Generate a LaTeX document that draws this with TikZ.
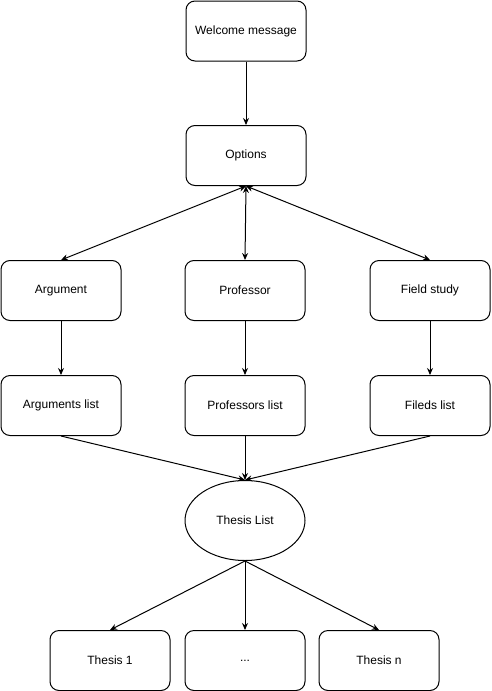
\documentclass[tikz,border=0pt]{standalone}
\usepackage{fontspec}
\setmainfont{Liberation Sans}
\usetikzlibrary{arrows.meta,shapes.geometric}
\begin{document}
\begin{tikzpicture}[x=1pt,y=-1pt,
  box/.style={draw,line width=1pt,rounded corners=9pt,minimum width=120pt,minimum height=60pt,inner sep=0pt,font=\fontsize{12}{14}\selectfont},
  oval/.style={draw,line width=1pt,ellipse,minimum width=120pt,minimum height=80pt,inner sep=0pt,font=\fontsize{12}{14}\selectfont},
  conn/.style={line width=1pt,-{Stealth[length=7pt,width=6pt]}},
  bconn/.style={line width=1pt,{Stealth[length=7pt,width=6pt]}-{Stealth[length=7pt,width=6pt]}}]
\useasboundingbox (0,0) rectangle (491,691);
\node[box] (wel) at (246,31) {Welcome message};
\node[box] (opt) at (246,155.5) {Options};
\node[box] (arg) at (61,290.5) {Argument};
\node[box] (pro) at (245,290.5) {Professor};
\node[box] (fie) at (430,290.5) {Field study};
\node[box] (argl) at (61,405.5) {Arguments list};
\node[box] (prol) at (245,405.5) {Professors list};
\node[box] (fiel) at (430,405.5) {Fileds list};
\node[oval] (the) at (245,520.5) {Thesis List};
\node[box] (t1) at (110,660.5) {Thesis 1};
\node[box] (t2) at (245,660.5) {...};
\node[box] (tn) at (379,660.5) {Thesis n};
\draw[conn] (wel) -- (opt);
\draw[bconn] (opt.south) -- (arg.north);
\draw[bconn] (opt.south) -- (pro.north);
\draw[bconn] (opt.south) -- (fie.north);
\draw[conn] (arg) -- (argl);
\draw[conn] (pro) -- (prol);
\draw[conn] (fie) -- (fiel);
\draw[conn] (argl.south) -- (the.north);
\draw[conn] (prol.south) -- (the.north);
\draw[conn] (fiel.south) -- (the.north);
\draw[conn] (the.south) -- (t1.north);
\draw[conn] (the.south) -- (t2.north);
\draw[conn] (the.south) -- (tn.north);
\end{tikzpicture}
\end{document}
